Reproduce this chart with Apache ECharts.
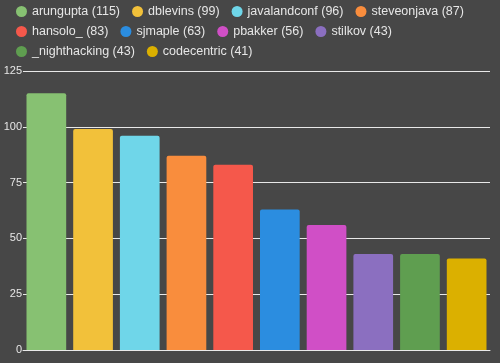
<!DOCTYPE html>
<html><head><meta charset="utf-8">
<script src="https://cdn.jsdelivr.net/npm/echarts@6/dist/echarts.min.js"></script>
<style>html,body{margin:0;padding:0;background:#474747;}#c{width:500px;height:363px;}</style>
</head><body><div id="c"></div>
<script>
const categories = ['arungupta','dblevins','javalandconf','steveonjava','hansolo_','sjmaple','pbakker','stilkov','_nighthacking','codecentric'];
const values = [115, 99, 96, 87, 83, 63, 56, 43, 43, 41];
const colors = ['#87c172','#f2c13a','#6fd6e9','#f98d3d','#f5584b','#2b8de0','#d04fc6','#8b6fc0','#5f9e50','#dbb000'];
const yTicks = [0, 25, 50, 75, 100, 125];

const series = categories.map((name, i) => ({
  name: name,
  type: 'bar',
  stack: 'all',
  barCategoryGap: '15%',
  data: categories.map((_, j) => j === i ? values[i] : null),
  itemStyle: { color: colors[i], borderRadius: [2,2,0,0] },
  emphasis: { disabled: true }
}));

const chart = echarts.init(document.getElementById('c'));
chart.setOption({
  backgroundColor: '#474747',
  animation: false,
  color: colors,
  legend: {
    left: 12, top: 0, width: 470, padding: 4,
    icon: 'circle', itemWidth: 11, itemHeight: 11, itemGap: 5,
    textStyle: { color: '#e6e6e6', fontSize: 12.5, lineHeight: 15, fontFamily: 'Liberation Sans, Arial, sans-serif', padding: [0,7,0,0] },
    formatter: name => name + ' (' + values[categories.indexOf(name)] + ')',
    data: categories
  },
  grid: { left: 23, right: 10, top: 71, bottom: 13 },
  xAxis: {
    type: 'category', data: categories,
    axisLine: { lineStyle: { color: '#e8e8e8', width: 1 } },
    axisTick: { show: false }, axisLabel: { show: false }
  },
  yAxis: {
    type: 'value', min: yTicks[0], max: yTicks[yTicks.length-1], interval: 25,
    axisLine: { show: false }, axisTick: { show: false },
    axisLabel: { color: '#e6e6e6', fontSize: 11, margin: 1, fontFamily: 'Liberation Sans, Arial, sans-serif' },
    splitLine: { lineStyle: { color: '#e8e8e8', width: 1 } }
  },
  series: series
});
</script></body></html>
